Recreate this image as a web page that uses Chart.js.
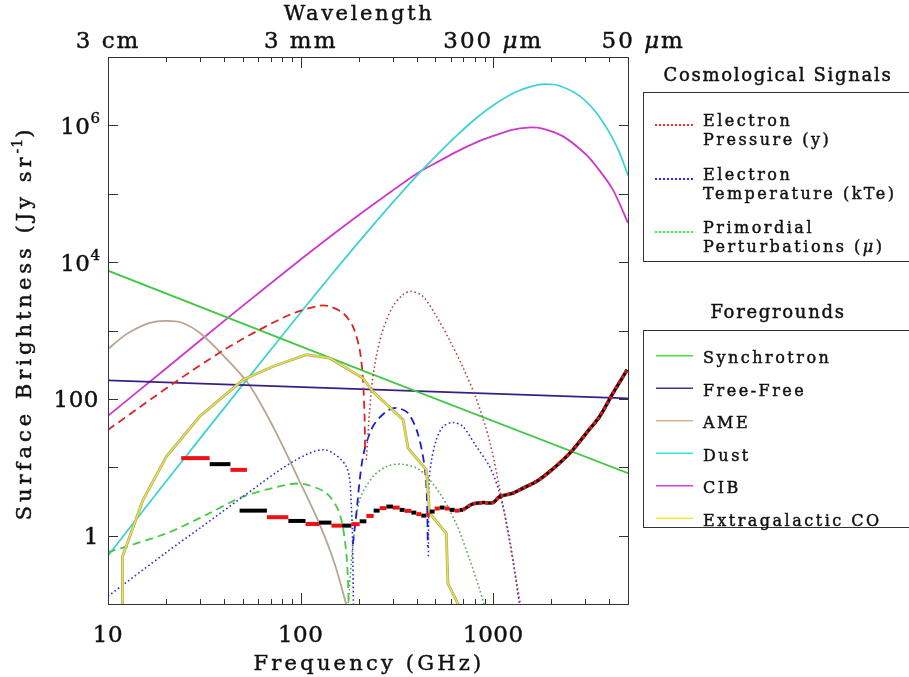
<!DOCTYPE html>
<html>
<head>
<meta charset="utf-8">
<title>Surface brightness of cosmological signals and foregrounds</title>
<script src="https://cdn.jsdelivr.net/npm/chart.js@4.4.1/dist/chart.umd.min.js"></script>
<style>
  html, body { margin: 0; padding: 0; background: #fff; }
  #wrap { width: 909px; height: 677px; }
</style>
</head>
<body>
<div id="wrap"><canvas id="chart" width="909" height="677"></canvas></div>
<script>
// frequency in GHz, surface brightness in Jy/sr

// foregrounds
const syncFreq = [10, 202, 5000];
const syncVal = [7500, 270, 8.2];

const ffFreq = [10, 5000];
const ffVal = [186, 102];

const ameFreq = [10, 12, 13.5, 16.5, 20, 24, 30, 40, 54, 72, 98, 125, 150, 176];
const ameVal = [535, 820, 1010, 1290, 1380, 1310, 919, 420, 161, 39, 6.5, 1.5, 0.39, 0.08];

const dustFreq = [10, 20, 50, 100, 141, 200, 300, 398, 500, 643, 800, 1000, 1300, 1600, 1845, 2200, 2800, 3400, 4000, 4500, 5000];
const dustVal = [0.51, 6.2, 160, 1830, 6000, 1.96e4, 7.4e4, 1.8e5, 3.5e5, 7.0e5, 1.22e6, 1.97e6, 3.05e6, 3.76e6, 4.0e6, 3.8e6, 2.7e6, 1.57e6, 7.9e5, 4.1e5, 1.85e5];

const cibFreq = [10, 20, 47.3, 100, 159, 250, 398, 500, 643, 800, 1000, 1250, 1514, 1800, 2300, 3000, 3430, 4170, 5000];
const cibVal = [56.5, 278, 2017, 1.09e4, 3.0e4, 7.7e4, 1.95e5, 2.8e5, 4.1e5, 5.5e5, 7.0e5, 8.6e5, 9.3e5, 9.0e5, 6.9e5, 3.85e5, 2.5e5, 1.15e5, 3.75e4];

const coFreq = [11.88, 11.88, 15.2, 20.1, 29.9, 50.2, 71.8, 107, 141, 210, 237, 340, 361, 449, 467, 570, 581, 682];
const coVal = [0.08, 0.49, 3.33, 14.3, 55.2, 190, 298, 443, 396, 202, 128, 49.4, 19, 9.16, 2.13, 1.08, 0.2, 0.08];

// cosmological signals (negative parts dashed, positive parts dotted)
const yNegFreq = [10, 22.6, 40, 61.2, 90, 125.4, 141, 165.8, 186.6, 202.4, 210.6, 214.8, 216];
const yNegVal = [35.3, 180, 520, 1028, 1750, 2307, 2254, 1803, 1148, 524, 190, 49.4, 16];
const yPosFreq = [219, 232.8, 247, 267.5, 301, 340, 375, 431, 506, 593, 695, 816, 957, 1079, 1216, 1390];
const yPosVal = [12.8, 136, 418, 1028, 2254, 3342, 3735, 3160, 1620, 720, 290, 100, 24, 4.8, 0.8, 0.09];

const kteLoFreq = [10, 20.1, 29.9, 50.2, 91.3, 133, 172.6, 183.3, 186.6, 188];
const kteLoVal = [0.13, 0.57, 1.28, 3.72, 12.1, 18, 10.2, 2.66, 0.4, 0.08];
const kteMidFreq = [186.6, 193, 210.6, 237, 278.5, 315, 361, 405, 440, 452, 457];
const kteMidVal = [0.75, 1.7, 14.3, 39.4, 65.5, 73.6, 61.9, 31.5, 10.2, 3.72, 0.69];
const kteHiFreq = [460, 464, 476, 506, 548, 617, 695, 816, 957, 1079, 1216, 1366];
const kteHiVal = [0.5, 6, 12, 25.2, 39.4, 45.1, 39.4, 20.1, 10.2, 4.18, 0.87, 0.1];

const muLoFreq = [10, 20.1, 33.7, 50.2, 84.3, 102.7, 136, 159, 172.6, 178];
const muLoVal = [0.57, 1.08, 2.13, 3.72, 5.53, 5.7, 4.18, 2.13, 0.55, 0.09];
const muHiFreq = [176, 186.6, 202.4, 237, 278.5, 333, 415, 527, 640, 755, 883, 950];
const muHiVal = [0.09, 0.69, 3.33, 7.3, 10.2, 11.1, 9.16, 4.18, 1.52, 0.44, 0.114, 0.05];

// sensitivity bands (alternating red / black)
const bandLo = [24.0, 33.7, 43.2, 48.2, 66.8, 86.3, 106, 124.6, 144.4, 164, 183.3, 202.4, 219.3, 239.2, 257, 278.5, 301.3, 326.5, 346.6, 375.4, 398.5, 423, 449.1, 467.2, 496, 526.6, 558.9, 593.3, 630, 668.5];
const bandHi = [33.7, 43.2, 52.6, 66.8, 86.3, 106, 124.6, 144.4, 164, 183.3, 202.4, 219.3, 239.2, 257, 278.5, 301.3, 326.5, 346.6, 375.4, 398.5, 423, 449.1, 467.2, 496, 526.6, 558.9, 593.3, 630, 668.5, 695.5];
const bandVal = [13.6, 11.1, 9.16, 2.32, 1.86, 1.64, 1.48, 1.55, 1.40, 1.40, 1.47, 1.62, 1.94, 2.32, 2.52, 2.66, 2.57, 2.38, 2.30, 2.17, 2.06, 1.96, 2.01, 2.25, 2.49, 2.57, 2.49, 2.38, 2.32, 2.38];
const tailFreq = [695.5, 783, 883, 995, 1079, 1265, 1425, 1672, 1960, 2297, 2588, 3039, 3563, 4178, 4955];
const tailVal = [2.38, 2.91, 3.04, 3.04, 3.72, 4.18, 4.94, 6.18, 8.65, 12.8, 18, 31.6, 55.2, 121, 267];

// axes
const xMinorTicks = [20, 30, 40, 50, 60, 70, 80, 90, 200, 300, 400, 500, 600, 700, 800, 900, 2000, 3000, 4000];
const xMajorTicks = [10, 100, 1000];
const xTickLabels = ["10", "100", "1000"];
const yTicks = [1, 10, 100, 1e3, 1e4, 1e5, 1e6];
const yLabelVals = [1, 100, 1e4, 1e6];
const topLabelFreq = [10, 100, 1000, 6000];

const FONT = '"DejaVu Serif", "Liberation Serif", serif';

const xy = (f, v) => f.map((x, i) => ({ x, y: v[i] }));

const bandPts = [];
bandLo.forEach((lo, i) => {
    bandPts.push({ x: lo, y: bandVal[i] }, { x: bandHi[i], y: bandVal[i] });
});

function curve(f, v, color, extra) {
    return Object.assign({
        data: xy(f, v),
        borderColor: color,
        borderWidth: 1.8,
        tension: 0.3,
        fill: false,
        pointRadius: 0,
    }, extra || {});
}

const DASH = [8, 5];
const DOT = [1.6, 2.6];

const datasets = [
    // sensitivity curve on top
    curve(tailFreq, tailVal, "#e81414", { borderWidth: 3.5, borderDash: [3, 3] }),
    curve(tailFreq, tailVal, "#111", { borderWidth: 3.5 }),
    {
        data: bandPts,
        borderWidth: 4,
        tension: 0,
        pointRadius: 0,
        fill: false,
        borderColor: "#000",
        segment: {
            borderColor: (c) => c.p0DataIndex % 2 ? "rgba(0,0,0,0)"
                : ((c.p0DataIndex / 2) % 2 ? "#000" : "#ee1111"),
        },
    },
    curve(coFreq, coVal, "#f0e628", { tension: 0, borderWidth: 1.4 }),
    curve(coFreq, coVal, "#a8a680", { tension: 0, borderWidth: 2.8 }),

    curve(yNegFreq, yNegVal, "#dd2222", { borderDash: DASH }),
    curve(yPosFreq, yPosVal, "#b84444", { borderDash: DOT, borderWidth: 1.6 }),
    curve(kteLoFreq, kteLoVal, "#3030cc", { borderDash: DOT, borderWidth: 1.6 }),
    curve(kteMidFreq, kteMidVal, "#1c1cdd", { borderDash: DASH }),
    curve(kteHiFreq, kteHiVal, "#3030cc", { borderDash: DOT, borderWidth: 1.6 }),
    curve(muLoFreq, muLoVal, "#44cc44", { borderDash: DASH }),
    curve(muHiFreq, muHiVal, "#55a855", { borderDash: DOT, borderWidth: 1.6 }),

    curve(syncFreq, syncVal, "#44c844", { tension: 0 }),
    curve(ffFreq, ffVal, "#3a1e88", { tension: 0 }),
    curve(ameFreq, ameVal, "#b8a48f"),
    curve(dustFreq, dustVal, "#3fd2d2"),
    curve(cibFreq, cibVal, "#cc38cc"),
];

// text made of runs: plain, italic or raised pieces
function drawRuns(ctx, runs, x, y, size, align, spacing) {
    let w = 0;
    runs.forEach((r) => {
        ctx.font = `${r.it ? "italic " : ""}${r.size || size}px ${FONT}`;
        ctx.letterSpacing = (r.sp != null ? r.sp : spacing) + "px";
        r.w = ctx.measureText(r.t).width;
        w += r.w;
    });
    let cx = align === "center" ? x - w / 2 : align === "right" ? x - w : x;
    ctx.textAlign = "left";
    ctx.lineWidth = 0.45;
    ctx.strokeStyle = ctx.fillStyle;
    ctx.setLineDash([]);
    runs.forEach((r) => {
        ctx.font = `${r.it ? "italic " : ""}${r.size || size}px ${FONT}`;
        ctx.letterSpacing = (r.sp != null ? r.sp : spacing) + "px";
        ctx.fillText(r.t, cx, y + (r.dy || 0));
        ctx.strokeText(r.t, cx, y + (r.dy || 0));
        cx += r.w;
    });
}

function seg(ctx, x1, y1, x2, y2) {
    ctx.beginPath();
    ctx.moveTo(x1, y1);
    ctx.lineTo(x2, y2);
    ctx.stroke();
}

const cosmoLegend = [
    { lines: ["Electron", "Pressure (y)"], color: "#ff2a2a", y: 125 },
    { lines: ["Electron", "Temperature (kTe)"], color: "#2a2aff", y: 179 },
    { lines: ["Primordial", "Perturbations (μ)"], color: "#2aff2a", y: 232 },
];
const fgLegend = [
    { label: "Synchrotron", color: "#3ee83e" },
    { label: "Free-Free", color: "#4a2a98" },
    { label: "AME", color: "#d6b48e" },
    { label: "Dust", color: "#34e4e4" },
    { label: "CIB", color: "#e634e6" },
    { label: "Extragalactic CO", color: "#f2ee22" },
];

const decor = {
    id: "decor",
    afterDraw(chart) {
        const { ctx, chartArea: a, scales: { x, y } } = chart;
        ctx.save();
        ctx.fillStyle = "#111";
        ctx.strokeStyle = "#333";
        ctx.lineWidth = 1;
        ctx.setLineDash([]);

        // frame
        ctx.strokeRect(a.left + 0.5, a.top + 0.5, a.right - a.left, a.bottom - a.top);

        // ticks (inside the frame)
        xMinorTicks.concat(xMajorTicks).forEach((f) => {
            const px = Math.round(x.getPixelForValue(f)) + 0.5;
            const len = xMajorTicks.includes(f) ? 11 : 5;
            seg(ctx, px, a.bottom, px, a.bottom - len);
            seg(ctx, px, a.top, px, a.top + len);
        });
        yTicks.forEach((v) => {
            const py = Math.round(y.getPixelForValue(v)) + 0.5;
            seg(ctx, a.left, py, a.left + 10, py);
            seg(ctx, a.right, py, a.right - 9, py);
        });

        // bottom tick labels
        xMajorTicks.forEach((f, i) => {
            drawRuns(ctx, [{ t: xTickLabels[i] }], x.getPixelForValue(f), 642, 23, "center", 0.5);
        });
        // left tick labels
        yLabelVals.forEach((v) => {
            const py = y.getPixelForValue(v);
            const e = Math.round(Math.log10(v));
            if (e >= 3) {
                drawRuns(ctx, [{ t: "10" }, { t: String(e), size: 15, dy: -11, sp: 0 }], 100, py + 9, 23, "right", 0.5);
            } else {
                drawRuns(ctx, [{ t: String(v) }], 99, py + 8.5, 23, "right", 0.5);
            }
        });

        // top wavelength labels
        const topRuns = [
            [{ t: "3 cm" }],
            [{ t: "3 mm" }],
            [{ t: "300 " }, { t: "μ", it: true }, { t: "m" }],
            [{ t: "50 " }, { t: "μ", it: true }, { t: "m" }],
        ];
        topLabelFreq.forEach((f, i) => {
            drawRuns(ctx, topRuns[i], x.getPixelForValue(f), 48, 23, "center", 2);
        });

        // axis titles
        drawRuns(ctx, [{ t: "Wavelength" }], 359, 20, 21, "center", 2.6);
        drawRuns(ctx, [{ t: "Frequency (GHz)" }], 369, 670, 21, "center", 3.2);
        ctx.save();
        ctx.translate(31, 323);
        ctx.rotate(-Math.PI / 2);
        drawRuns(ctx, [
            { t: "Surface Brightness (Jy sr" },
            { t: "-1", size: 14, dy: -9, sp: 1 },
            { t: ")" },
        ], 0, 0, 21, "center", 4);
        ctx.restore();

        // legend boxes
        ctx.strokeStyle = "#333";
        ctx.lineWidth = 1;
        ctx.strokeRect(643.5, 92.5, 300, 169);
        ctx.strokeRect(643.5, 330.5, 300, 197);
        drawRuns(ctx, [{ t: "Cosmological Signals" }], 778, 81, 18, "center", 1.7);
        drawRuns(ctx, [{ t: "Foregrounds" }], 778, 318, 18, "center", 1.7);

        cosmoLegend.forEach((item) => {
            ctx.strokeStyle = item.color;
            ctx.lineWidth = 2;
            ctx.setLineDash([2, 2]);
            seg(ctx, 655, item.y, 693, item.y);
            ctx.setLineDash([]);
            item.lines.forEach((ln, k) => {
                const m = ln.match(/^(.*\()μ(\))$/);
                const runs = m ? [{ t: m[1] }, { t: "μ", it: true }, { t: m[2] }] : [{ t: ln }];
                drawRuns(ctx, runs, 703, item.y + 0.5 + k * 19.3, 16, "left", 2.5);
            });
        });
        fgLegend.forEach((item, k) => {
            const ly = 355.7 + k * 32.5;
            ctx.strokeStyle = item.color;
            ctx.lineWidth = 1.6;
            seg(ctx, 656, ly, 693, ly);
            drawRuns(ctx, [{ t: item.label }], 703, ly + 7.6, 16, "left", 2.5);
        });

        ctx.restore();
    },
};

new Chart(document.getElementById("chart"), {
    type: "line",
    data: { datasets },
    options: {
        responsive: false,
        animation: false,
        devicePixelRatio: 1,
        events: [],
        layout: { padding: { left: 108, right: 281, top: 57, bottom: 73 } },
        scales: {
            x: { type: "logarithmic", min: 10, max: 5000, display: false },
            y: { type: "logarithmic", min: 0.1, max: 1e7, display: false },
        },
        plugins: { legend: { display: false }, tooltip: { enabled: false } },
    },
    plugins: [decor],
});
</script>
</body>
</html>
